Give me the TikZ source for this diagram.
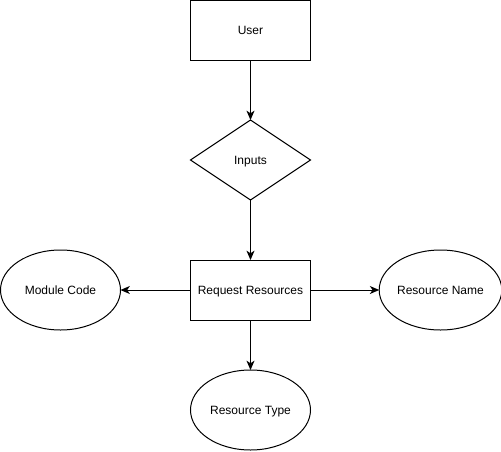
\documentclass[tikz,border=0pt]{standalone}
\usepackage{fontspec}
\setmainfont{Liberation Sans}
\usetikzlibrary{shapes.geometric,arrows.meta}
\begin{document}
\begin{tikzpicture}[x=0.75pt,y=-0.75pt,
  every node/.style={font=\fontsize{9}{11}\selectfont, inner sep=0pt, outer sep=0pt, text height=6.5pt, text depth=0pt},
  box/.style={draw, line width=0.75pt, minimum width=90pt, minimum height=45pt},
  dia/.style={draw, line width=0.75pt, diamond, aspect=1.5, minimum width=90pt, minimum height=60pt},
  ell/.style={draw, line width=0.75pt, ellipse, minimum width=90pt, minimum height=60pt},
  conn/.style={draw, line width=0.75pt, -{Stealth[length=7pt,width=6pt,inset=2pt]}}]
\useasboundingbox (0,0) rectangle (501,451);
\node[box] (user) at (250.5,30) {User};
\node[dia] (inputs) at (250.5,160) {Inputs};
\node[box] (req) at (250.5,290) {Request Resources};
\node[ell] (mod) at (60.5,290) {Module Code};
\node[ell] (rname) at (440.5,290) {Resource Name};
\node[ell] (rtype) at (250.5,410) {Resource Type};
\draw[conn] (user.south) -- (inputs.north);
\draw[conn] (inputs.south) -- (req.north);
\draw[conn] (req.west) -- (mod.east);
\draw[conn] (req.east) -- (rname.west);
\draw[conn] (req.south) -- (rtype.north);
\end{tikzpicture}
\end{document}
